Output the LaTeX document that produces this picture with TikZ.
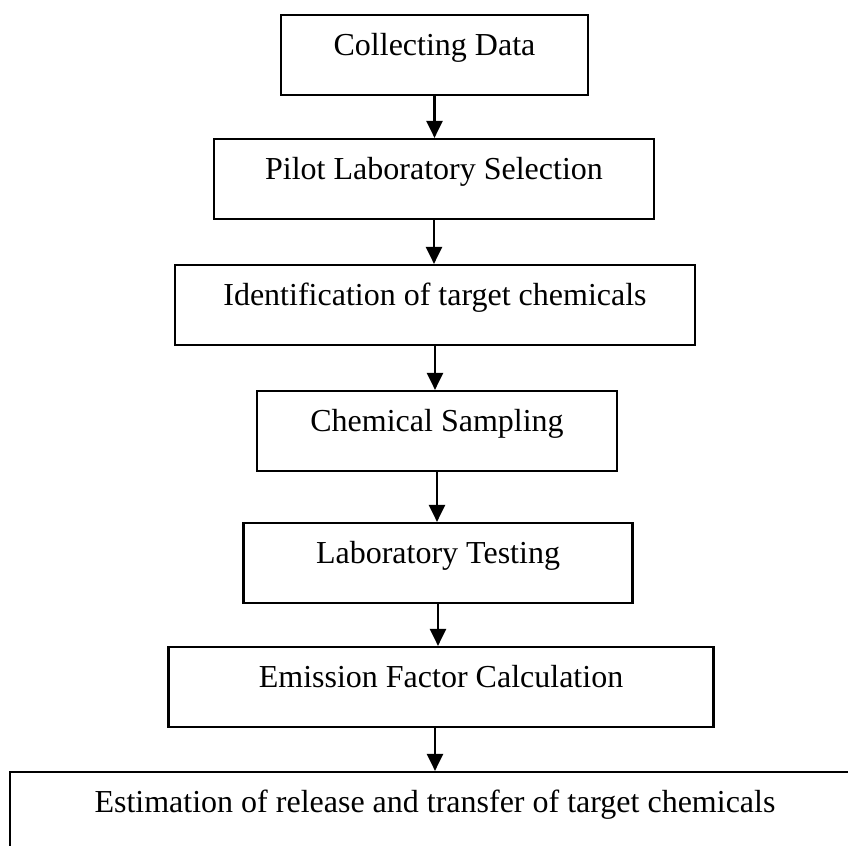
\documentclass[tikz,border=0pt]{standalone}
\usepackage{fontspec}
\setmainfont{Liberation Serif}
\usetikzlibrary{arrows.meta}

\begin{document}
\begin{tikzpicture}[x=0.5pt,y=-0.5pt,
  stepbox/.style={draw, line width=1.1pt, inner sep=0pt, text height=20pt, text depth=20pt, font=\fontsize{16}{19}\selectfont},
  flow/.style={line width=1.1pt, -{Triangle[length=8.5pt,width=8pt]}}]
\useasboundingbox (0,0) rectangle (848,846);
\node[stepbox, minimum width=153.5pt] (collect) at (434.5,55) {Collecting Data};
\node[stepbox, minimum width=220pt] (pilot) at (434,179) {Pilot Laboratory Selection};
\node[stepbox, minimum width=260pt] (ident) at (435,305) {Identification of target chemicals};
\node[stepbox, minimum width=180pt] (sampling) at (437,431) {Chemical Sampling};
\node[stepbox, minimum width=194.5pt] (testing) at (438,563) {Laboratory Testing};
\node[stepbox, minimum width=272.5pt] (factor) at (441,687) {Emission Factor Calculation};
\node[stepbox, minimum width=425pt] (estimate) at (435,812) {Estimation of release and transfer of target chemicals};
\draw[flow] (collect) -- (collect |- pilot.north);
\draw[flow] (pilot) -- (pilot |- ident.north);
\draw[flow] (ident) -- (ident |- sampling.north);
\draw[flow] (sampling) -- (sampling |- testing.north);
\draw[flow] (testing) -- (testing |- factor.north);
\draw[flow] (estimate |- factor.south) -- (estimate.north);
\end{tikzpicture}
\end{document}
